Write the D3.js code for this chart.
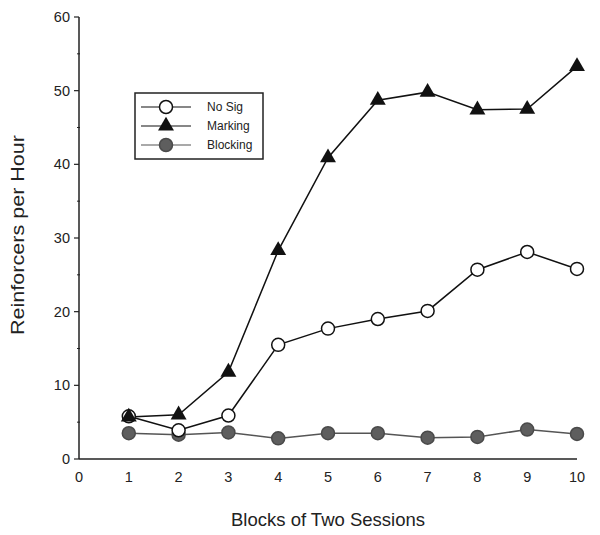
<!DOCTYPE html>
<html>
<head>
<meta charset="utf-8">
<script src="https://cdn.jsdelivr.net/npm/d3@7"></script>
<style>
  body { margin: 0; background: #fff; }
  text { font-family: "Liberation Sans", Arial, sans-serif; fill: #222; }
</style>
</head>
<body>
<div id="chart"></div>
<script>
const blocks=[1, 2, 3, 4, 5, 6, 7, 8, 9, 10];
const noSig=[5.8, 3.9, 5.9, 15.5, 17.7, 19.0, 20.1, 25.7, 28.1, 25.8];
const marking=[5.7, 6.0, 11.8, 28.3, 40.9, 48.7, 49.8, 47.4, 47.5, 53.3];
const blocking=[3.5, 3.3, 3.6, 2.8, 3.5, 3.5, 2.9, 3.0, 4.0, 3.4];
const xTicks=[0, 1, 2, 3, 4, 5, 6, 7, 8, 9, 10];
const yTicks=[0, 10, 20, 30, 40, 50, 60];
const yMinor=[5, 15, 25, 35, 45, 55];

const width=600, height=535;

const svg=d3.select("#chart").append("svg")
    .attr("width", width)
    .attr("height", height);

const x=d3.scaleLinear().domain([0, 10]).range([79, 577]);
const y=d3.scaleLinear().domain([0, 60]).range([459, 17]);

// axes
svg.append("line")
    .attr("x1", x(0)).attr("x2", x(10))
    .attr("y1", y(0)).attr("y2", y(0))
    .style("stroke", "#222").style("stroke-width", 1.5);

svg.append("line")
    .attr("x1", x(0)).attr("x2", x(0))
    .attr("y1", y(0)).attr("y2", y(60))
    .style("stroke", "#222").style("stroke-width", 1.5);

svg.selectAll(".ytick")
    .data(yTicks)
    .enter().append("line")
    .attr("class", "ytick")
    .attr("x1", x(0)-5).attr("x2", x(0))
    .attr("y1", d => y(d)).attr("y2", d => y(d))
    .style("stroke", "#222").style("stroke-width", 1.2);

svg.selectAll(".yminor")
    .data(yMinor)
    .enter().append("line")
    .attr("class", "yminor")
    .attr("x1", x(0)-2).attr("x2", x(0)+1)
    .attr("y1", d => y(d)).attr("y2", d => y(d))
    .style("stroke", "#222").style("stroke-width", 1);

svg.selectAll(".ylab")
    .data(yTicks)
    .enter().append("text")
    .attr("class", "ylab")
    .attr("x", x(0)-9)
    .attr("y", d => y(d)+5)
    .attr("text-anchor", "end")
    .style("font-size", "14.5px")
    .text(d => d);

svg.selectAll(".xlab")
    .data(xTicks)
    .enter().append("text")
    .attr("class", "xlab")
    .attr("x", d => x(d))
    .attr("y", 482)
    .attr("text-anchor", "middle")
    .style("font-size", "14.5px")
    .text(d => d);

svg.append("text")
    .attr("x", 328).attr("y", 526)
    .attr("text-anchor", "middle")
    .style("font-size", "18.5px")
    .text("Blocks of Two Sessions");

// the scanned y title is a bit stretched along its length
svg.append("text")
    .attr("transform", "translate(24,235) rotate(-90)")
    .attr("text-anchor", "middle")
    .attr("textLength", 200)
    .attr("lengthAdjust", "spacingAndGlyphs")
    .style("font-size", "18.5px")
    .text("Reinforcers per Hour");

// series
const series=[
    {name: "No Sig", values: noSig, shape: "circle", fill: "#fff", stroke: "#111", line: "#111"},
    {name: "Marking", values: marking, shape: "triangle", fill: "#111", stroke: "#111", line: "#111"},
    {name: "Blocking", values: blocking, shape: "circle", fill: "#5e5e5e", stroke: "#4a4a4a", line: "#555"},
];

const line=d3.line()
    .x((d, i) => x(blocks[i]))
    .y(d => y(d));

const triangle=d3.symbol().type(d3.symbolTriangle).size(110);

function drawMarker (g, s, cx, cy) {
    if (s.shape==="triangle") {
        g.append("path")
            .attr("d", triangle())
            .attr("transform", `translate(${cx},${cy})`)
            .style("fill", s.fill);
    } else {
        g.append("circle")
            .attr("cx", cx).attr("cy", cy).attr("r", 6.5)
            .style("fill", s.fill)
            .style("stroke", s.stroke)
            .style("stroke-width", 1.5);
    }
}

// blocking drawn first so others sit on top
[series[2], series[0], series[1]].forEach(s => {
    svg.append("path")
        .datum(s.values)
        .attr("d", line)
        .style("fill", "none")
        .style("stroke", s.line)
        .style("stroke-width", 1.5);
});

[series[2], series[0], series[1]].forEach(s => {
    const g=svg.append("g");
    s.values.forEach((v, i) => drawMarker(g, s, x(blocks[i]), y(v)));
});

// legend
const legend=svg.append("g");
legend.append("rect")
    .attr("x", 135).attr("y", 93)
    .attr("width", 128).attr("height", 66)
    .style("fill", "#fff")
    .style("stroke", "#222")
    .style("stroke-width", 1.5);

series.forEach((s, i) => {
    const ly=107+i*19;
    legend.append("line")
        .attr("x1", 141).attr("x2", 191)
        .attr("y1", ly).attr("y2", ly)
        .style("stroke", s.line).style("stroke-width", 1.2);
    drawMarker(legend, s, 166, ly);
    legend.append("text")
        .attr("x", 207).attr("y", ly+4)
        .style("font-size", "12px")
        .text(s.name);
});
</script>
</body>
</html>
